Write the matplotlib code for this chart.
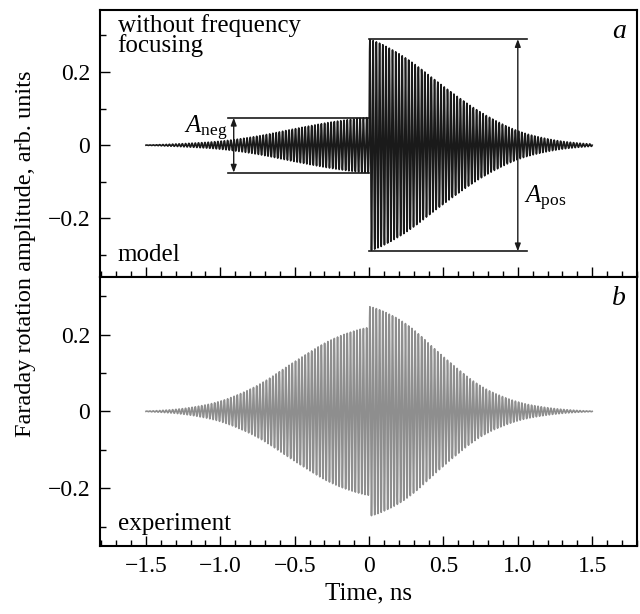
import numpy as np
import matplotlib
matplotlib.use("Agg")
import matplotlib.pyplot as plt
from matplotlib.ticker import MultipleLocator, FuncFormatter

plt.rcParams['font.family'] = ['Liberation Serif', 'DejaVu Serif']
plt.rcParams['mathtext.fontset'] = 'custom'
plt.rcParams['mathtext.rm'] = 'Liberation Serif'
plt.rcParams['mathtext.it'] = 'Liberation Serif:italic'

# envelope (time in ns, amplitude in arb. units)
t_env = [-1.5, -1.25, -1.0, -0.75, -0.5, -0.25, 0.0]
t_env_pos = [0.0, 0.25, 0.5, 0.75, 1.0, 1.25, 1.5]
model_neg = [0.0, 0.004, 0.010, 0.024, 0.045, 0.064, 0.077]
model_pos = [0.295, 0.24, 0.16, 0.088, 0.036, 0.012, 0.002]
exp_neg = [0.0, 0.006, 0.024, 0.065, 0.13, 0.19, 0.222]
exp_pos = [0.278, 0.232, 0.141, 0.062, 0.022, 0.006, 0.0]
carrier_ghz = 46.0

A_neg = 0.075
A_pos = 0.29

t = np.linspace(-1.5, 1.5, 30001)
carrier = np.sin(2 * np.pi * carrier_ghz * t)


def smooth_side(x, knots, vals):
    # linear through the read points, then a moving average to round the kinks
    y = np.interp(x, knots, vals)
    n = 2201
    pad = n // 2
    yp = np.concatenate([np.full(pad, y[0]), y, np.full(pad, y[-1])])
    return np.convolve(yp, np.ones(n) / n, mode='valid')


def envelope(neg, pos):
    neg_mask = t <= 0
    env = np.empty_like(t)
    env[neg_mask] = smooth_side(t[neg_mask], t_env, neg)
    env[~neg_mask] = smooth_side(t[~neg_mask], t_env_pos, pos)
    return env


fig = plt.figure(figsize=(6.4, 6.14), dpi=100)
ax1 = fig.add_axes([0.156, 0.549, 0.839, 0.435])
ax2 = fig.add_axes([0.156, 0.111, 0.839, 0.438])

ax1.plot(t, envelope(model_neg, model_pos) * carrier, color='#1a1a1a', lw=1.2)
ax2.plot(t, envelope(exp_neg, exp_pos) * carrier, color='#8e8e8e', lw=1.2)

for ax in (ax1, ax2):
    ax.set_xlim(-1.81, 1.80)
    ax.xaxis.set_major_locator(MultipleLocator(0.5))
    ax.xaxis.set_minor_locator(MultipleLocator(0.1))
    ax.yaxis.set_major_locator(MultipleLocator(0.2))
    ax.yaxis.set_minor_locator(MultipleLocator(0.1))
    ax.tick_params(which='both', direction='in', top=False, right=False,
                   labelsize=17, pad=7)
    ax.tick_params(which='major', length=7, width=1)
    ax.tick_params(which='minor', length=4, width=1)
    for s in ax.spines.values():
        s.set_linewidth(1.5)

fmt = FuncFormatter(lambda v, p: '0' if abs(v) < 1e-9 else f'{v:.1f}'.replace('-', '\u2212'))
ax1.yaxis.set_major_formatter(fmt)
ax2.yaxis.set_major_formatter(fmt)
ax2.xaxis.set_major_formatter(fmt)
ax1.set_ylim(-0.36, 0.37)
ax2.set_ylim(-0.35, 0.35)
ax1.tick_params(labelbottom=False)

arrow = dict(arrowstyle='-|>,head_length=0.45,head_width=0.17', color='#1a1a1a',
             lw=1, shrinkA=0, shrinkB=0)

# A_neg marker
ax1.plot([-0.95, 0.0], [A_neg, A_neg], color='#1a1a1a', lw=1.2)
ax1.plot([-0.95, 0.0], [-A_neg, -A_neg], color='#1a1a1a', lw=1.2)
ax1.annotate('', xy=(-0.91, A_neg), xytext=(-0.91, 0), arrowprops=arrow)
ax1.annotate('', xy=(-0.91, -A_neg), xytext=(-0.91, 0), arrowprops=arrow)
ax1.text(-0.95, 0.045, r'$A_{\mathrm{neg}}$', fontsize=18, ha='right', va='center')

# A_pos marker
ax1.plot([0.0, 1.06], [A_pos, A_pos], color='#1a1a1a', lw=1.2)
ax1.plot([0.0, 1.06], [-A_pos, -A_pos], color='#1a1a1a', lw=1.2)
ax1.annotate('', xy=(1.0, A_pos), xytext=(1.0, 0), arrowprops=arrow)
ax1.annotate('', xy=(1.0, -A_pos), xytext=(1.0, 0), arrowprops=arrow)
ax1.text(1.04, -0.145, r'$A_{\mathrm{pos}}$', fontsize=18, ha='left', va='center')

ax1.text(0.033, 0.985, 'without frequency\nfocusing', transform=ax1.transAxes,
         fontsize=18, ha='left', va='top', linespacing=0.85)
ax1.text(0.033, 0.04, 'model', transform=ax1.transAxes, fontsize=18, ha='left', va='bottom')
ax1.text(0.98, 0.965, 'a', transform=ax1.transAxes, fontsize=20, ha='right', va='top', style='italic')
ax2.text(0.033, 0.04, 'experiment', transform=ax2.transAxes, fontsize=18, ha='left', va='bottom')
ax2.text(0.98, 0.965, 'b', transform=ax2.transAxes, fontsize=20, ha='right', va='top', style='italic')

ax2.set_xlabel('Time, ns', fontsize=18, labelpad=4)
fig.text(0.024, 0.586, 'Faraday rotation amplitude, arb. units', rotation=90,
         fontsize=17.5, ha='left', va='center')

fig.savefig('out.png', dpi=100)
